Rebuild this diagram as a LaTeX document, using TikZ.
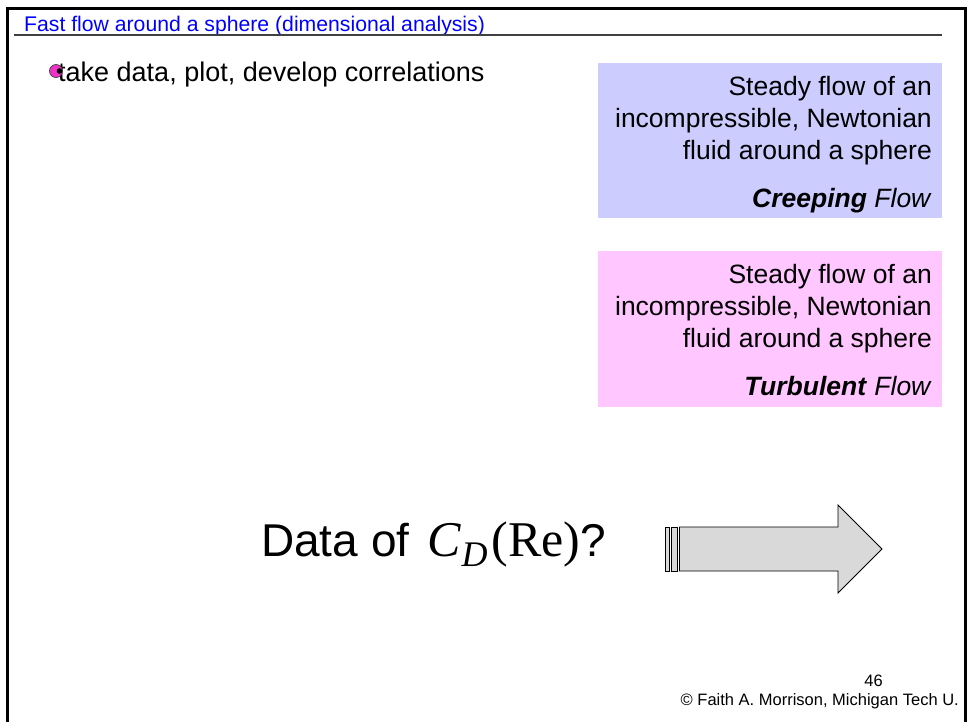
\documentclass[tikz,border=0pt]{standalone}
\usepackage[no-math]{fontspec}
\setmainfont{Liberation Sans}
\newfontfamily\mathserif{Liberation Serif}
\definecolor{hdrblue}{RGB}{0,0,255}
\definecolor{boxblue}{RGB}{204,204,255}
\definecolor{boxpink}{RGB}{255,198,255}
\definecolor{arrowgray}{RGB}{217,217,217}
\definecolor{bulletmag}{RGB}{240,50,200}
\definecolor{rulegray}{RGB}{64,64,64}
\tikzset{
  boxtext/.style={anchor=base east, inner sep=0pt, font=\fontsize{26.5}{32}\selectfont},
  small/.style={inner sep=0pt, font=\fontsize{16.5}{20}\selectfont},
}
\begin{document}
\begin{tikzpicture}[x=1pt,y=-1pt]
\useasboundingbox (0,0) rectangle (968,721);
\begin{scope}
\clip (0,0) rectangle (968,721);
\draw[line width=3pt] (7,8) rectangle (965.5,740);
\end{scope}
% header
\node[anchor=base west, inner sep=0pt, text=hdrblue, font=\fontsize{21.2}{24}\selectfont] (hdr) at (24,31) {Fast flow around a sphere (dimensional analysis)};
\coordinate (hl) at (14,35);
\coordinate (hr) at (942,35);
\draw[rulegray, line width=1.5pt] (hl) -- (hr);
% bullet
\node[anchor=base west, inner sep=0pt, font=\fontsize{27}{32}\selectfont] (bul) at (58,81) {take data, plot, develop correlations};
\draw[fill=bulletmag, draw=black!75, line width=0.7pt] (56,71) circle (6.5);
\fill[black] (59.5,71) circle (2.8);
% blue box
\fill[boxblue] (598,63) rectangle (942,218);
\node[boxtext] (b1) at (932,95) {Steady flow of an};
\node[boxtext] (b2) at (932,127) {incompressible, Newtonian};
\node[boxtext] (b3) at (932,159) {fluid around a sphere};
\node[boxtext] (b4) at (932,207) {\textbf{\textit{Creeping}} \textit{Flow}};
% pink box
\fill[boxpink] (598,251) rectangle (942,407);
\node[boxtext] (p1) at (932,283) {Steady flow of an};
\node[boxtext] (p2) at (932,315) {incompressible, Newtonian};
\node[boxtext] (p3) at (932,347) {fluid around a sphere};
\node[boxtext] (p4) at (932,395) {\textbf{\textit{Turbulent}} \textit{Flow}};
% data text
\node[anchor=base west, inner sep=0pt, font=\fontsize{46}{52}\selectfont] (data) at (261,556) {Data of\ \kern5pt{\mathserif\fontsize{50}{52}\selectfont\itshape C\kern1pt\raisebox{-10pt}{\fontsize{36}{36}\selectfont D}\kern4pt\upshape(Re)}?};
% arrow
\draw[fill=arrowgray, line width=0.9pt] (665,527) rectangle (669.5,571);
\draw[fill=arrowgray, line width=0.9pt] (671.5,527) rectangle (677.5,571);
\draw[fill=arrowgray, line width=0.9pt, line join=miter] (679.5,527) -- (838,527) -- (838,505) -- (882,549) -- (838,593) -- (838,571) -- (679.5,571) -- cycle;
% footer
\node[small, anchor=base east] (pg) at (883,686) {46};
\node[small, anchor=base east] (cr) at (959,705) {\textcopyright{} Faith A. Morrison, Michigan Tech U.};
\end{tikzpicture}
\end{document}
